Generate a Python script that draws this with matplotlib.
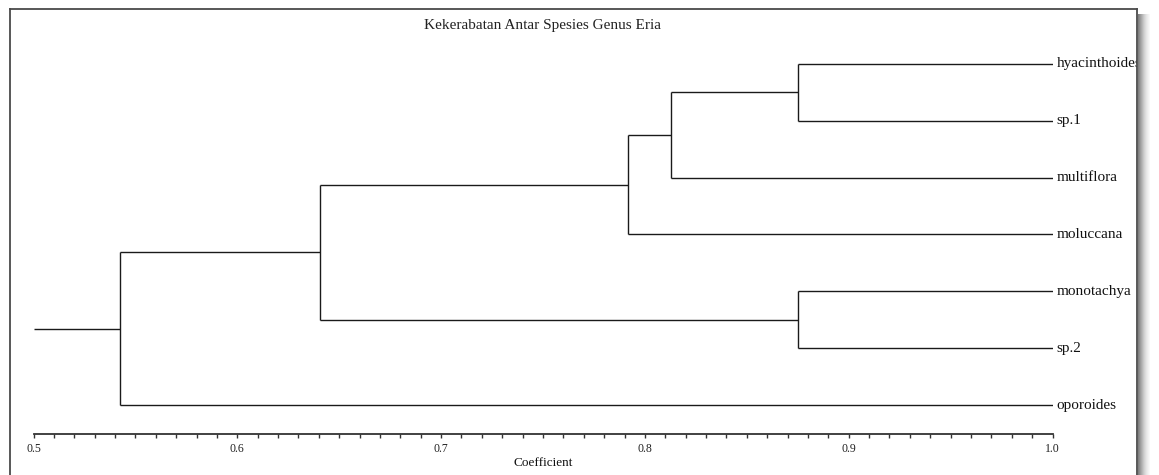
import matplotlib
matplotlib.use('Agg')
import matplotlib.pyplot as plt
from matplotlib.patches import Rectangle
from matplotlib.lines import Line2D
from matplotlib.ticker import MultipleLocator

plt.rcParams['font.family'] = ['Liberation Serif', 'DejaVu Serif']

# leaves, top to bottom
labels = ['hyacinthoides', 'sp.1', 'multiflora', 'moluccana',
          'monotachya', 'sp.2', 'oporoides']
# merges: (child a, child b, coefficient); new node ids start at len(labels)
merges = [(0, 1, 0.875),
          (7, 2, 0.8128),
          (8, 3, 0.7917),
          (4, 5, 0.875),
          (9, 10, 0.6406),
          (11, 6, 0.5424)]
root_start = 0.5
title = 'Kekerabatan Antar Spesies Genus Eria'
xlabel = 'Coefficient'
tick_vals = [0.5, 0.6, 0.7, 0.8, 0.9, 1.0]
tick_labels = ['0.5', '0.6', '0.7', '0.8', '0.9', '1.0']

W, H = 1159, 475
def fx(px):
    return px / W
def fy(py):
    return 1 - py / H

fig = plt.figure(figsize=(W / 100, H / 100), dpi=100)
fig.patch.set_facecolor('white')

# axes: x 0.5 -> px 33.5, 1.0 -> px 1052.5 ; axis line at py 434.3, top at py 40
ax = fig.add_axes([fx(33.5), fy(434.3), fx(1052.5) - fx(33.5), (434.3 - 40) / H])
ax.set_xlim(0.5, 1.0)
ax.set_ylim((434.3 - 63.7) / 56.9, (40 - 63.7) / 56.9)

lc = '#1a1a1a'
lw = 1.0
px = {i: 1.0 for i in range(len(labels))}
py = {i: float(i) for i in range(len(labels))}
for k, (a, b, s) in enumerate(merges):
    n = len(labels) + k
    for c in (a, b):
        ax.plot([px[c], s], [py[c], py[c]], color=lc, lw=lw, solid_capstyle='butt')
    ax.plot([s, s], [py[a], py[b]], color=lc, lw=lw, solid_capstyle='butt')
    px[n] = s
    py[n] = (py[a] + py[b]) / 2
last = len(labels) + len(merges) - 1
ax.plot([root_start, px[last]], [py[last], py[last]], color=lc, lw=lw, solid_capstyle='butt')

for i, lab in enumerate(labels):
    ax.annotate(lab, (1.0, i), xytext=(3, 0), textcoords='offset points',
                va='center', ha='left', fontsize=11, color='#111111',
                annotation_clip=False)

for side in ('left', 'right', 'top'):
    ax.spines[side].set_visible(False)
ax.spines['bottom'].set_color('#333333')
ax.spines['bottom'].set_linewidth(1.3)
ax.set_yticks([])
ax.xaxis.set_minor_locator(MultipleLocator(0.01))
ax.tick_params(axis='x', which='both', direction='out', length=3, width=1.0,
               color='#333333', pad=3, labelsize=8.5, labelcolor='#222222')
ax.set_xticks(tick_vals)
ax.set_xticklabels(tick_labels)
ax.set_xlabel(xlabel, fontsize=9.5, color='#111111')
ax.xaxis.set_label_coords(0.5, -(463 - 434.3) / (434.3 - 40))
ax.xaxis.label.set_va('center')

fig.text(fx(542), fy(25), title, ha='center', va='center', fontsize=11, color='#222222')

# window frame with shadow on the right
fig.add_artist(Rectangle((fx(1137), 0), 1 - fx(1137), 1, transform=fig.transFigure,
                         facecolor='white', edgecolor='none', zorder=5))
shades = ['#808080', '#8e8e8e', '#9c9c9c', '#aaaaaa', '#b8b8b8', '#c6c6c6',
          '#d2d2d2', '#dcdcdc', '#e5e5e5', '#ececec', '#f2f2f2', '#f8f8f8']
for j, sh in enumerate(shades):
    fig.add_artist(Rectangle((fx(1138 + j), 0), fx(1), fy(14), transform=fig.transFigure,
                             facecolor=sh, edgecolor='none', zorder=6))
frame_c = '#4a4a4a'
fig.add_artist(Line2D([fx(10), fx(10)], [0, fy(9)], transform=fig.transFigure,
                      color=frame_c, lw=1.3, zorder=7))
fig.add_artist(Line2D([fx(10), fx(1137)], [fy(9), fy(9)], transform=fig.transFigure,
                      color=frame_c, lw=1.3, zorder=7))
fig.add_artist(Line2D([fx(1137), fx(1137)], [0, fy(9)], transform=fig.transFigure,
                      color=frame_c, lw=1.3, zorder=7))

fig.savefig('out.png', dpi=100, facecolor='white')
